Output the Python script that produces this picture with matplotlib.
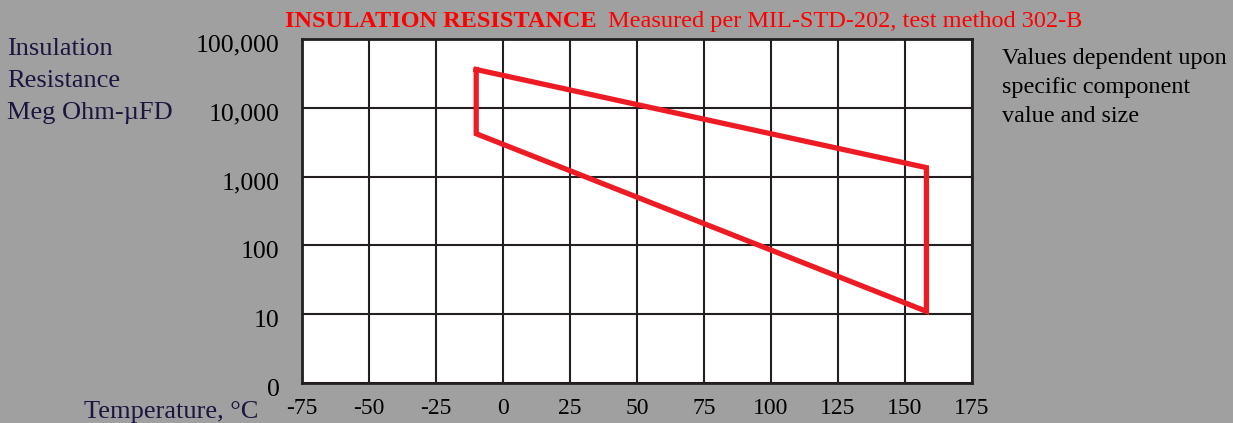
import matplotlib

matplotlib.use("Agg")
import matplotlib.pyplot as plt
from matplotlib.ticker import FixedLocator, FixedFormatter
from matplotlib.transforms import ScaledTranslation

BG = "#A0A0A0"
RED = "#ED1C24"
TITLE_RED = "#FF0000"
INK = "#231F20"
NAVY = "#1B1540"

# data
temps_c = [-10, -10, 158, 158, -10]  # outline of the band, clockwise from top-left
resistance = [36000, 4200, 11, 1350, 36000]
x_ticks = [-75, -50, -25, 0, 25, 50, 75, 100, 125, 150, 175]
y_ticks = [1, 10, 100, 1000, 10000, 100000]
y_labels = ["0", "10", "100", "1,000", "10,000", "100,000"]

plt.rcParams["font.family"] = ["Liberation Serif", "DejaVu Serif"]
plt.rcParams["axes.unicode_minus"] = False

fig = plt.figure(figsize=(12.33, 4.23), dpi=100, facecolor=BG)
ax = fig.add_axes([302 / 1233, 1 - 383 / 423, 670 / 1233, 344 / 423])
ax.set_facecolor("white")

ax.plot(temps_c, resistance, color=RED, lw=3.8, solid_joinstyle="miter", zorder=3)

ax.set_yscale("log")
ax.set_ylim(1, 100000)
ax.set_xlim(-75, 175)
ax.xaxis.set_major_locator(FixedLocator(x_ticks))
ax.yaxis.set_major_locator(FixedLocator(y_ticks))
ax.yaxis.set_major_formatter(FixedFormatter(y_labels))
ax.yaxis.set_minor_locator(FixedLocator([]))
ax.tick_params(axis="y", length=0, pad=16, labelsize=18.5, colors="black")
ax.tick_params(axis="x", length=0, pad=11, labelsize=17, colors="black")
ax.grid(True, color=INK, lw=1.5)
for s in ax.spines.values():
    s.set_color(INK)
    s.set_linewidth(2)

# y labels in the original sit a few px below their grid lines
shift = ScaledTranslation(0, -3 / 72, fig.dpi_scale_trans)
for lab in ax.get_yticklabels():
    lab.set_transform(lab.get_transform() + shift)

# title: bold part then regular part right after it
fig.text(285 / 1233, 1 - 27 / 423, "INSULATION RESISTANCE", color=TITLE_RED,
         fontsize=17.5, fontweight="bold", va="baseline", ha="left")
fig.text(608 / 1233, 1 - 27 / 423, "Measured per MIL-STD-202, test method 302-B",
         color=TITLE_RED, fontsize=17.5, va="baseline", ha="left")

fig.text(7 / 1233, 1 - 55 / 423, "Insulation", color=NAVY, fontsize=19, va="baseline")
fig.text(7 / 1233, 1 - 87 / 423, "Resistance", color=NAVY, fontsize=19, va="baseline")
fig.text(7 / 1233, 1 - 119 / 423, "Meg Ohm-µFD", color=NAVY, fontsize=19, va="baseline")

fig.text(258 / 1233, 1 - 418 / 423, "Temperature, °C", color=NAVY, fontsize=19,
         ha="right", va="baseline")

fig.text(1002 / 1233, 1 - 64 / 423, "Values dependent upon", fontsize=17.4, va="baseline")
fig.text(1002 / 1233, 1 - 93 / 423, "specific component", fontsize=17.4, va="baseline")
fig.text(1002 / 1233, 1 - 122 / 423, "value and size", fontsize=17.4, va="baseline")

fig.savefig("out.png", facecolor=BG)
